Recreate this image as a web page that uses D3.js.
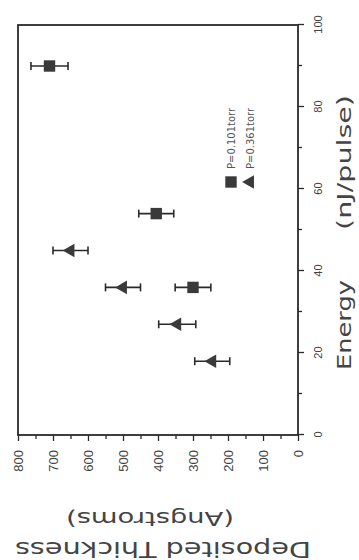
<!DOCTYPE html>
<html>
<head>
<meta charset="utf-8">
<script src="https://cdn.jsdelivr.net/npm/d3@7"></script>
<style>
  html, body { margin: 0; padding: 0; background: #fff; }
  svg { display: block; font-family: "DejaVu Sans", Arial, sans-serif; }
</style>
</head>
<body>
<div id="chart"></div>
<script>
const energySq = [90, 54, 36];
const thickSq = [710, 405, 300];
const errSq = [53, 50, 51];

const energyTri = [45, 36, 27, 18];
const thickTri = [650, 500, 345, 245];
const errTri = [50, 50, 53, 50];

const legendLabels = ["P=0.101torr", "P=0.361torr"];
const energyTicks = [0, 20, 40, 60, 80, 100];
const thickTicks = [0, 100, 200, 300, 400, 500, 600, 700, 800];

const W = 359, H = 560;
const iw = 410, ih = 280;   // plot size in the unrotated frame
const ink = "#2a2a2a";

const svg = d3.select("#chart").append("svg").attr("width", W).attr("height", H);

// whole figure is turned 90° counter-clockwise
const g = svg.append("g").attr("transform", "translate(18,435) rotate(-90)");

const x = d3.scaleLinear().domain([0, 100]).range([0, iw]);
const y = d3.scaleLinear().domain([0, 800]).range([ih, 0]);

// minor ticks
g.append("g")
  .attr("transform", `translate(0,${ih})`)
  .call(d3.axisBottom(x).tickValues(d3.range(10, 100, 20)).tickSize(4).tickSizeOuter(0).tickFormat(""))
  .call(s => s.select(".domain").remove());
g.append("g")
  .call(d3.axisLeft(y).tickValues(d3.range(50, 800, 100)).tickSize(4).tickSizeOuter(0).tickFormat(""))
  .call(s => s.select(".domain").remove());

// major ticks + labels
const xa = g.append("g")
  .attr("transform", `translate(0,${ih})`)
  .call(d3.axisBottom(x).tickValues(energyTicks).tickSize(6).tickSizeOuter(0).tickPadding(10));
xa.select(".domain").remove();
xa.selectAll("text").attr("font-size", 11).attr("fill", "#444");

const ya = g.append("g")
  .call(d3.axisLeft(y).tickValues(thickTicks).tickSize(6).tickSizeOuter(0).tickPadding(9));
ya.select(".domain").remove();
ya.selectAll("text").attr("font-size", 13).attr("fill", "#444");

g.selectAll(".tick line").attr("stroke", ink).attr("stroke-width", 1.3);

// frame
g.append("rect")
  .attr("x", 0).attr("y", 0).attr("width", iw).attr("height", ih)
  .attr("fill", "none").attr("stroke", ink).attr("stroke-width", 1.8);

// error bars
function errBars(en, th, er) {
  const eb = g.append("g").attr("stroke", ink).attr("stroke-width", 1.6);
  en.forEach((e, i) => {
    const cx = x(e);
    eb.append("line").attr("x1", cx).attr("x2", cx)
      .attr("y1", y(th[i] - er[i])).attr("y2", y(th[i] + er[i]));
    [th[i] - er[i], th[i] + er[i]].forEach(v => {
      eb.append("line").attr("x1", cx - 4).attr("x2", cx + 4)
        .attr("y1", y(v)).attr("y2", y(v));
    });
  });
}
errBars(energySq, thickSq, errSq);
errBars(energyTri, thickTri, errTri);

const sq = d3.symbol().type(d3.symbolSquare).size(130);
const tri = d3.symbol().type(d3.symbolTriangle).size(80);

g.selectAll(".sq").data(energySq).enter().append("path")
  .attr("class", "sq")
  .attr("d", sq)
  .attr("transform", (d, i) => `translate(${x(d)},${y(thickSq[i])})`)
  .attr("fill", "#3a3a3a");

g.selectAll(".tri").data(energyTri).enter().append("path")
  .attr("class", "tri")
  .attr("d", tri)
  .attr("transform", (d, i) => `translate(${x(d)},${y(thickTri[i])})`)
  .attr("fill", "#3a3a3a");

// legend
const leg = g.append("g").attr("transform", "translate(253,213)");
[sq, tri].forEach((s, i) => {
  const row = leg.append("g").attr("transform", `translate(0,${i * 19})`);
  row.append("path").attr("d", s).attr("fill", "#3a3a3a");
  row.append("text").attr("x", 13).attr("y", 0).attr("dy", "0.35em")
    .attr("font-size", 10).attr("fill", "#555").text(legendLabels[i]);
});

// axis titles
g.append("text").attr("x", 65).attr("y", 333)
  .attr("font-size", 20).attr("fill", "#444")
  .attr("textLength", 90).attr("lengthAdjust", "spacingAndGlyphs")
  .text("Energy");
g.append("text").attr("x", 205).attr("y", 333)
  .attr("font-size", 20).attr("fill", "#444")
  .attr("textLength", 135).attr("lengthAdjust", "spacingAndGlyphs")
  .text("(nJ/pulse)");

g.append("text").attr("transform", "translate(-107,145) rotate(-90)")
  .attr("text-anchor", "middle").attr("font-size", 21).attr("fill", "#444")
  .attr("textLength", 296).attr("lengthAdjust", "spacingAndGlyphs")
  .text("Deposited   Thickness");
g.append("text").attr("transform", "translate(-77,132) rotate(-90)")
  .attr("text-anchor", "middle").attr("font-size", 19).attr("fill", "#444")
  .attr("textLength", 168).attr("lengthAdjust", "spacingAndGlyphs")
  .text("(Angstroms)");
</script>
</body>
</html>
